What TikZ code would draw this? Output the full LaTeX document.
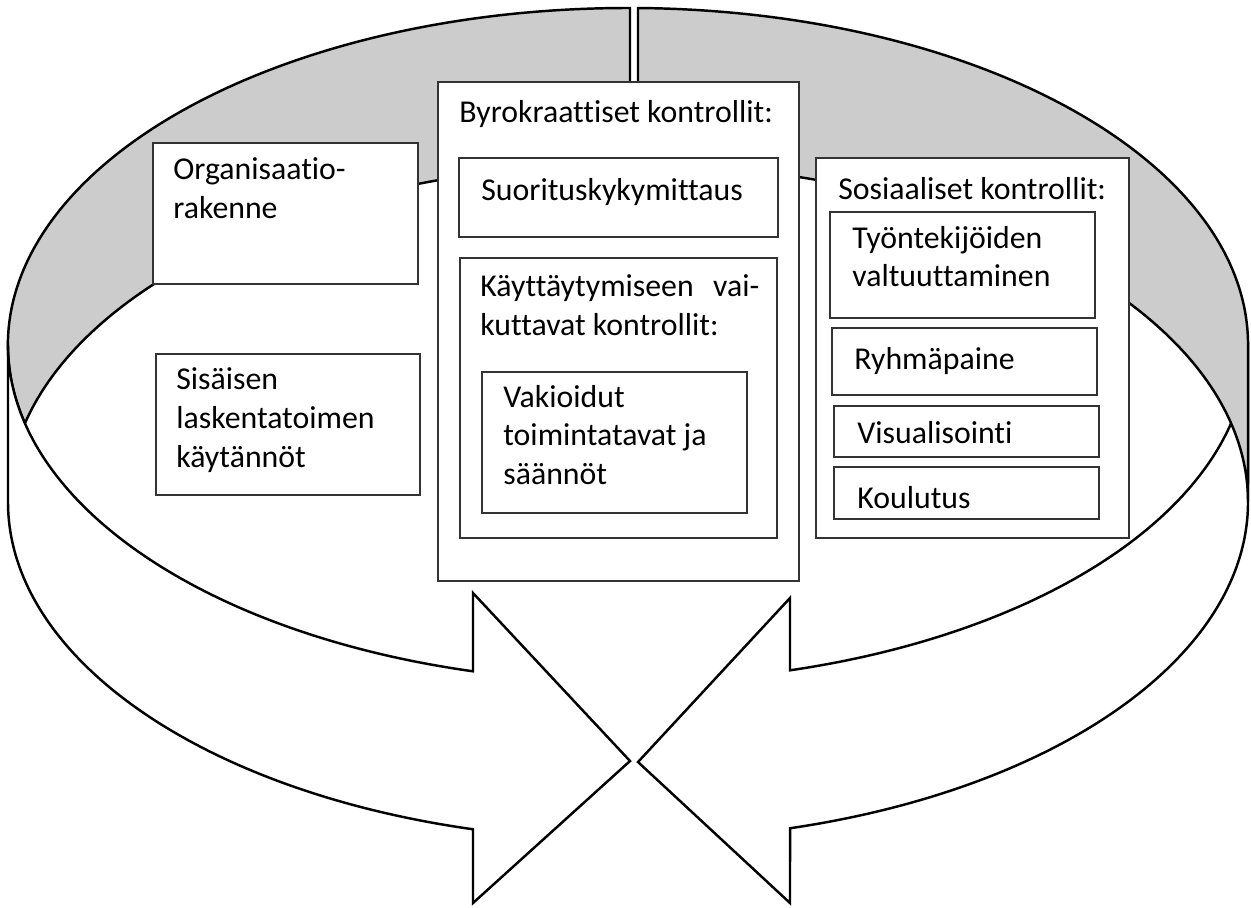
\documentclass[tikz,border=0pt]{standalone}
\usepackage{fontspec}
\setmainfont{Carlito}[Ligatures=NoCommon]
\usetikzlibrary{fit}

\begin{document}
\begin{tikzpicture}[
  x=0.02cm, y=0.02cm,
  ring/.style={draw=black, line width=1.4pt, line join=miter},
  back/.style={ring, fill=gray!40},
  front/.style={ring, fill=white},
  box/.style={draw=black!80, line width=0.8pt, fill=white, inner sep=0pt},
  txt/.style={anchor=north west, inner sep=0pt, align=left, font=\fontsize{18.1}{22}\selectfont, execute at begin node=\strut}
]
\useasboundingbox (0,0) rectangle (1251,-907);

% left arrow: back (grey) and front band
\draw[back] (630,-8) arc[start angle=89.8, end angle=193.45, x radius=620, y radius=337]
  arc[start angle=166.55, end angle=89.8, x radius=620, y radius=338] -- cycle;
\draw[front] (8,-345) -- (8,-502) arc[start angle=180, end angle=255.52, x radius=620, y radius=338]
  -- (473,-903) -- (630,-761) -- (473,-593) -- (473,-671.3)
  arc[start angle=255.52, end angle=180, x radius=620, y radius=337] -- cycle;

% right arrow: front band, then back (grey) on top
\draw[front] (1248,-345) -- (1248,-502) arc[start angle=0, end angle=-74.85, x radius=620, y radius=338]
  -- (790,-903) -- (638,-762) -- (790,-598) -- (790,-670.3)
  arc[start angle=-74.85, end angle=0, x radius=620, y radius=337] -- cycle;
\draw[back] (638,-8) arc[start angle=89.08, end angle=0, x radius=620, y radius=337]
  -- (1248,-502) arc[start angle=0, end angle=89.08, x radius=620, y radius=338] -- cycle;

% left column
\node[box, fit={(153,-143) (418,-284)}] (org) {};
\node[txt] (orgtxt) at (173,-157.7) {Organisaatio-\\rakenne};
\node[box, fit={(156,-354) (420,-495)}] (sis) {};
\node[txt] (sistxt) at (176,-367.7) {Sisäisen\\laskentatoimen\\käytännöt};

% bureaucratic controls
\node[box, fit={(438,-82) (799,-581)}] (byro) {};
\node[txt] (byrotxt) at (459,-94.7) {Byrokraattiset kontrollit:};
\node[box, fit={(459,-158) (778,-237)}] (suor) {};
\node[txt] (suortxt) at (481,-172.7) {Suorituskykymittaus};
\node[box, fit={(460,-258) (777,-538)}] (kay) {};
\node[txt] (kaytxt) at (480,-274.7) {Käyttäytymiseen\hspace{11pt}vai-\\kuttavat kontrollit:};
\node[box, fit={(482,-372) (747,-513)}] (vak) {};
\node[txt] (vaktxt) at (503,-384.7) {Vakioidut\\toimintatavat ja\\säännöt};

% social controls
\node[box, fit={(816,-158) (1129,-538)}] (sos) {};
\node[txt] (sostxt) at (838,-171.7) {Sosiaaliset kontrollit:};
\node[box, fit={(830,-212) (1095,-318)}] (tyo) {};
\node[txt] (tyotxt) at (852,-225.7) {Työntekijöiden\\valtuuttaminen};
\node[box, fit={(832,-328) (1097,-395)}] (ryh) {};
\node[txt] (ryhtxt) at (854,-341.7) {Ryhmäpaine};
\node[box, fit={(834,-406) (1099,-457)}] (vis) {};
\node[txt] (vistxt) at (857,-415.7) {Visualisointi};
\node[box, fit={(834,-467) (1099,-519)}] (kou) {};
\node[txt] (koutxt) at (857,-480.7) {Koulutus};
\end{tikzpicture}
\end{document}
